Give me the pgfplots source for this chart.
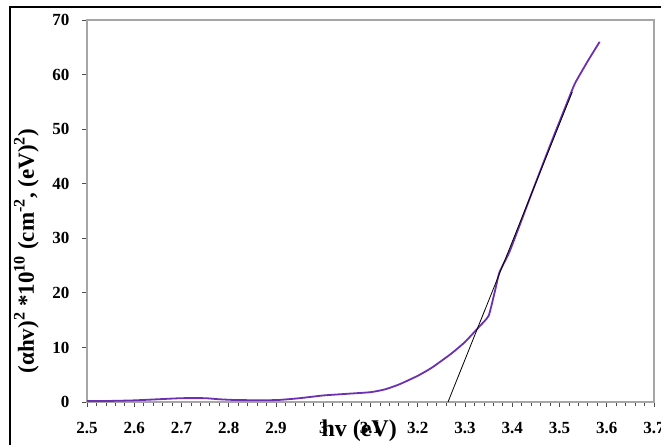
\documentclass[border=0pt]{standalone}
\usepackage{fontspec}
\setmainfont{Liberation Serif}
\usepackage{pgfplots}
\pgfplotsset{compat=1.18}
\definecolor{curve}{RGB}{108,48,176}
\begin{document}
\begin{tikzpicture}[x=1pt,y=1pt]
  \useasboundingbox (0,0) rectangle (661,445);
  \draw[line width=1.5pt] (10,0) -- (10,438) -- (661,438);
  \begin{axis}[
    scale only axis,
    width=567pt, height=382pt,
    at={(87pt,43pt)}, anchor=south west,
    xmin=2.5, xmax=3.7, ymin=0, ymax=70,
    xtick={2.5,2.6,2.7,2.8,2.9,3.0,3.1,3.2,3.3,3.4,3.5,3.6,3.7},
    ytick={0,10,...,70},
    minor x tick num=4,
    tick pos=left,
    tick align=outside,
    major tick length=5pt, minor tick length=4pt,
    tick style={gray!60!black, line width=0.8pt},
    axis line style={gray!70, line width=1.3pt},
    ticklabel style={font=\fontsize{17}{17}\selectfont\bfseries},
    /pgf/number format/assume math mode=true,
    /pgf/number format/.cd, fixed, precision=1, /pgfplots/.cd,
    xticklabel style={yshift=-12pt},
    yticklabel style={xshift=-9pt},
    xlabel={hv (eV)},
    xlabel style={at={(axis description cs:0.48,-0.076)}, anchor=center,
      font=\fontsize{24}{24}\selectfont\bfseries},
    ylabel={(αhv)\textsuperscript{2} *10\textsuperscript{10} (cm\textsuperscript{-2}, (eV)\textsuperscript{2})},
    ylabel style={at={(axis description cs:-0.107,0.395)}, anchor=center,
      font=\fontsize{23}{23}\selectfont\bfseries},
    clip=false,
  ]
    % measured curve
    \addplot[curve, line width=1.8pt, smooth, tension=0.3] coordinates {
      (2.50,0.2) (2.55,0.2) (2.60,0.3) (2.65,0.5) (2.70,0.7) (2.75,0.7)
      (2.78,0.5) (2.82,0.35) (2.90,0.35) (2.95,0.7) (3.00,1.2) (3.05,1.5)
      (3.10,1.8) (3.13,2.3) (3.16,3.2) (3.20,4.8) (3.23,6.3) (3.27,8.8)
      (3.30,11.0) (3.33,13.8) (3.35,15.8) (3.363,20.2) (3.373,23.8)
      (3.395,27.7) (3.44,38.0) (3.48,47.0) (3.525,56.8) (3.534,58.6)
      (3.56,62.5) (3.585,66.0)
    };
    % linear fit
    \addplot[black, line width=0.8pt] coordinates {(3.264,0) (3.527,56.8)};
  \end{axis}
\end{tikzpicture}
\end{document}
